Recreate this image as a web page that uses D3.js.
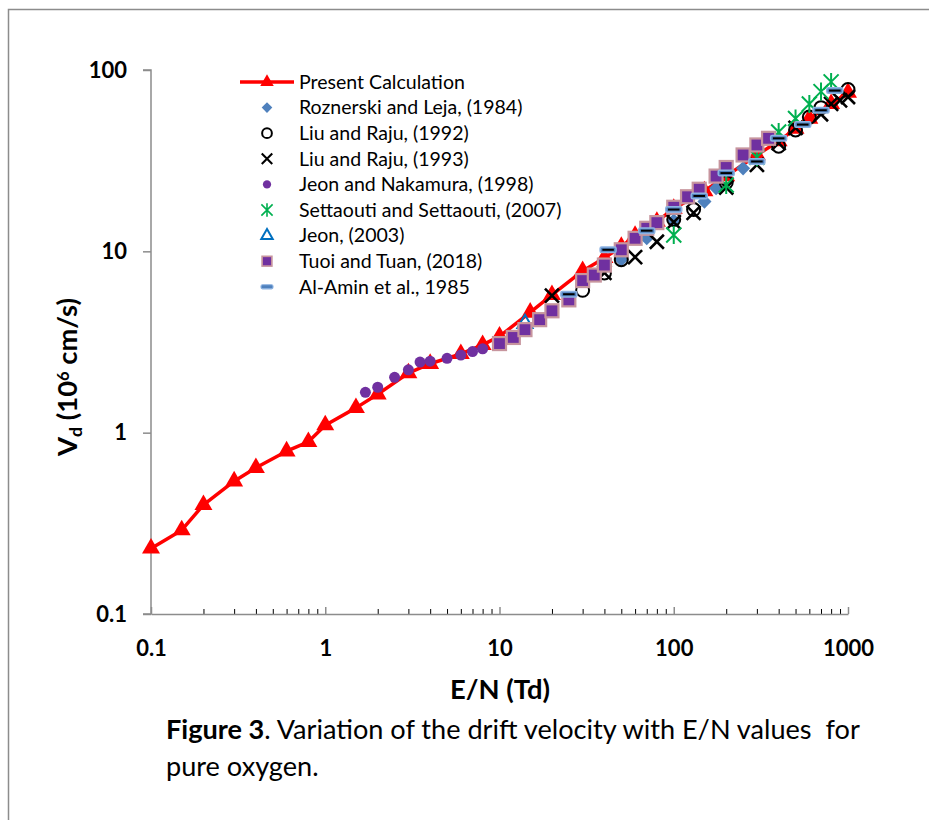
<!DOCTYPE html>
<html>
<head>
<meta charset="utf-8">
<script src="https://cdn.jsdelivr.net/npm/d3@7"></script>
<style>
  body { margin: 0; background: #fff; }
  svg { display: block; font-family: Lato, 'Open Sans', sans-serif; }
</style>
</head>
<body>
<div id="chart"></div>
<script>
// E/N (Td) and drift velocity Vd (10^6 cm/s), one pair of arrays per series
const presentEN = [0.1, 0.15, 0.2, 0.3, 0.4, 0.6, 0.8, 1, 1.5, 2, 3, 4, 6, 8, 10, 15, 20, 30, 40, 50, 60, 80, 100, 150, 200, 300, 400, 500, 600, 800, 1000];
const presentVd = [0.23, 0.29, 0.4, 0.54, 0.64, 0.79, 0.89, 1.1, 1.37, 1.63, 2.13, 2.4, 2.72, 3.05, 3.4, 4.6, 5.75, 7.8, 9.2, 10.6, 12.2, 14.6, 17.2, 21.5, 26, 34, 40.5, 47.5, 54, 65, 75];

const roznerskiEN = [50, 70, 100, 150, 175, 250];
const roznerskiVd = [9.0, 11.8, 14.8, 18.8, 22.3, 28.7];

const liu92EN = [30, 40, 50, 100, 130, 200, 400, 500, 600, 700, 1000];
const liu92Vd = [6.1, 7.6, 9.0, 15, 17, 24, 38, 46.7, 55, 62, 78];

const liu93EN = [20, 40, 60, 80, 100, 130, 200, 300, 400, 500, 700, 800, 900, 1000];
const liu93Vd = [5.7, 7.6, 9.3, 11.3, 14.5, 16.3, 22.5, 30, 39.5, 48, 57, 65, 68, 71];

const jeon98EN = [1.7, 2, 2.5, 3, 3.5, 4, 5, 6, 7, 8];
const jeon98Vd = [1.67, 1.78, 2.02, 2.22, 2.45, 2.48, 2.57, 2.68, 2.8, 2.9];

const settaoutiEN = [100, 200, 300, 400, 500, 600, 700, 800];
const settaoutiVd = [12.3, 23.2, 33, 45.5, 54, 65, 76, 86];

const jeon03EN = [14];
const jeon03Vd = [4.0];

const tuoiEN = [10, 12, 14, 17, 20, 25, 30, 35, 40, 50, 60, 70, 80, 100, 120, 140, 175, 200, 250, 300, 350];
const tuoiVd = [3.1, 3.35, 3.7, 4.2, 4.7, 5.4, 6.9, 7.4, 8.4, 10.2, 11.8, 13.4, 14.4, 17.5, 20, 22, 26, 29, 34, 38.6, 42];

const alAminEN = [25, 42, 70, 100, 140, 200, 300, 400, 550, 700, 840];
const alAminVd = [5.8, 10.2, 13, 17, 20.2, 27, 31.3, 42, 50, 60, 77];

const xTicks = [0.1, 1, 10, 100, 1000];
const yTicks = [0.1, 1, 10, 100];

const SERIES = [
  { name: 'Present Calculation', type: 'triangle', en: presentEN, vd: presentVd, line: true },
  { name: 'Roznerski and Leja, (1984)', type: 'diamond', en: roznerskiEN, vd: roznerskiVd },
  { name: 'Liu and Raju, (1992)', type: 'ring', en: liu92EN, vd: liu92Vd },
  { name: 'Liu and Raju, (1993)', type: 'cross', en: liu93EN, vd: liu93Vd },
  { name: 'Jeon and Nakamura, (1998)', type: 'dot', en: jeon98EN, vd: jeon98Vd },
  { name: 'Settaouti and Settaouti, (2007)', type: 'star', en: settaoutiEN, vd: settaoutiVd },
  { name: 'Jeon, (2003)', type: 'openTriangle', en: jeon03EN, vd: jeon03Vd },
  { name: 'Tuoi and Tuan, (2018)', type: 'square', en: tuoiEN, vd: tuoiVd },
  { name: 'Al-Amin et al., 1985', type: 'dash', en: alAminEN, vd: alAminVd },
];

const width = 929;
const height = 820;
const plot = { left: 151, right: 848, top: 70, bottom: 614 };
const AXIS_GREY = '#8c8c8c';

const svg = d3
  .select('#chart')
  .append('svg')
  .attr('width', width)
  .attr('height', height);

// page frame (only top and left edges show)
svg.append('path')
  .attr('d', `M8.5,${height} V9.5 H${width}`)
  .attr('fill', 'none')
  .attr('stroke', AXIS_GREY)
  .attr('stroke-width', 1.5);

const x = d3.scaleLog().domain([0.1, 1000]).range([plot.left, plot.right]);
const y = d3.scaleLog().domain([0.1, 100]).range([plot.bottom, plot.top]);

// x axis: minor ticks pointing up, then the labelled decades
const minorTicks = [];
for (let d = 0.1; d < 1000; d *= 10) {
  for (let m = 2; m <= 9; m++) minorTicks.push(+(d * m).toPrecision(3));
}
svg.append('g')
  .attr('transform', `translate(0,${plot.bottom})`)
  .call(d3.axisBottom(x).tickValues(minorTicks).tickSize(-5).tickFormat(''))
  .call((g) => g.select('.domain').remove());

const xAxis = svg.append('g')
  .attr('transform', `translate(0,${plot.bottom})`)
  .call(d3.axisBottom(x).tickValues(xTicks).tickSizeInner(-7).tickSizeOuter(0).tickPadding(26).tickFormat(d3.format('~g')));

const yAxis = svg.append('g')
  .attr('transform', `translate(${plot.left},0)`)
  .call(d3.axisLeft(y).tickValues(yTicks).tickSize(8).tickPadding(16).tickFormat(d3.format('~g')));

[xAxis, yAxis].forEach((g) => {
  g.selectAll('.domain, line').attr('stroke', AXIS_GREY).attr('stroke-width', 1.5);
  g.selectAll('text')
    .attr('font-family', 'Lato, sans-serif')
    .attr('font-size', 22)
    .attr('font-weight', 'bold')
    .attr('fill', '#000');
});
yAxis.select('.domain').attr('d', `M-8,${plot.bottom}H0V${plot.top}H-8`);

// markers
function marker(g, type, cx, cy, k) {
  const t = `translate(${cx},${cy})`;
  if (type === 'triangle' || type === 'openTriangle') {
    const open = type === 'openTriangle';
    g.append('path')
      .attr('transform', t)
      .attr('d', d3.symbol(d3.symbolTriangle, (open ? 100 : 140) * k * k)())
      .attr('fill', open ? 'none' : '#ff0000')
      .attr('stroke', open ? '#0070c0' : 'none')
      .attr('stroke-width', 2);
  } else if (type === 'diamond') {
    g.append('path')
      .attr('transform', `${t} rotate(45)`)
      .attr('d', d3.symbol(d3.symbolSquare, 100 * k * k)())
      .attr('fill', '#4f81bd');
  } else if (type === 'ring') {
    g.append('circle').attr('transform', t).attr('r', 6.5 * k)
      .attr('fill', 'none').attr('stroke', '#000').attr('stroke-width', 2);
  } else if (type === 'cross') {
    const h = 7 * k;
    g.append('path').attr('transform', t)
      .attr('d', `M${-h},${-h}L${h},${h}M${-h},${h}L${h},${-h}`)
      .attr('stroke', '#000').attr('stroke-width', 2.6 * Math.max(k, 0.8));
  } else if (type === 'dot') {
    g.append('circle').attr('transform', t).attr('r', 5.5 * k).attr('fill', '#7030a0');
  } else if (type === 'star') {
    const h = 7.5 * k;
    g.append('path').attr('transform', t)
      .attr('d', `M${-h},${-h}L${h},${h}M${-h},${h}L${h},${-h}M0,${-h * 1.2}V${h * 1.2}`)
      .attr('stroke', '#00b050').attr('stroke-width', 2 * Math.max(k, 0.8));
  } else if (type === 'square') {
    const s = 13 * k;
    g.append('rect').attr('transform', t)
      .attr('x', -s / 2).attr('y', -s / 2).attr('width', s).attr('height', s)
      .attr('fill', '#7030a0').attr('stroke', '#c7959e').attr('stroke-width', 2.2 * k);
  } else if (type === 'dash') {
    const w = 16 * k;
    const h = 5.5 * k;
    g.append('rect').attr('transform', t)
      .attr('x', -w / 2).attr('y', -h / 2).attr('width', w).attr('height', h).attr('rx', 1.5)
      .attr('fill', '#4f81bd').attr('stroke', '#8db3e2').attr('stroke-width', 1.5 * k);
    if (k > 0.8) {
      g.append('path').attr('transform', t)
        .attr('d', `M${-w * 0.36},0H${w * 0.36}`)
        .attr('stroke', '#000').attr('stroke-width', 2);
    }
  }
}

// series
const dataLayer = svg.append('g');
SERIES.forEach((s) => {
  const pts = s.en.map((e, i) => [e, s.vd[i]]);
  if (s.line) {
    dataLayer.append('path')
      .datum(pts)
      .attr('d', d3.line().x((d) => x(d[0])).y((d) => y(d[1])))
      .attr('fill', 'none')
      .attr('stroke', '#ff0000')
      .attr('stroke-width', 3.5)
      .attr('stroke-linejoin', 'round');
  }
  const g = dataLayer.append('g');
  pts.forEach((d) => marker(g, s.type, x(d[0]), y(d[1]), 1));
});

// legend
const LEGEND_X = 267;
const LEGEND_Y = 82;
const LEGEND_STEP = 25.6;
const legend = svg.append('g');
SERIES.forEach((s, i) => {
  const ly = LEGEND_Y + i * LEGEND_STEP;
  if (s.line) {
    legend.append('line')
      .attr('x1', 240).attr('x2', 294).attr('y1', ly).attr('y2', ly)
      .attr('stroke', '#ff0000').attr('stroke-width', 3.5);
  }
  marker(legend, s.type, LEGEND_X, ly, 0.75);
  legend.append('text')
    .attr('class', 'legend-label')
    .attr('x', 299)
    .attr('y', ly)
    .attr('dy', '0.35em')
    .attr('font-size', 17)
    .text(s.name);
});

// fit a text element's font size to a measured width
function fitWidth(sel, target) {
  const w = sel.node().getComputedTextLength();
  const fs = parseFloat(sel.attr('font-size'));
  sel.attr('font-size', (fs * target) / w);
}
fitWidth(legend.select('.legend-label'), 166);
legend.selectAll('.legend-label').attr('font-size', legend.select('.legend-label').attr('font-size'));

// axis titles
const xTitle = svg.append('text')
  .attr('x', 500)
  .attr('y', 699)
  .attr('text-anchor', 'middle')
  .attr('font-weight', 'bold')
  .attr('font-size', 24)
  .text('E/N (Td)');
fitWidth(xTitle, 100);

const yTitle = svg.append('text')
  .attr('transform', 'translate(77,377) rotate(-90)')
  .attr('text-anchor', 'middle')
  .attr('font-weight', 'bold')
  .attr('font-size', xTitle.attr('font-size'));
yTitle.append('tspan').text('V');
yTitle.append('tspan').attr('dy', 5).attr('font-size', '0.65em').text('d');
yTitle.append('tspan').attr('dy', -5).text(' (10');
yTitle.append('tspan').attr('dy', -8).attr('font-size', '0.6em').text('6');
yTitle.append('tspan').attr('dy', 8).text(' cm/s)');

// caption
const caption1 = svg.append('text')
  .attr('x', 166)
  .attr('y', 739)
  .attr('font-size', 24)
  .attr('fill', '#000');
caption1.append('tspan').attr('font-weight', 'bold').text('Figure 3');
caption1.append('tspan').text('. Variation of the drift velocity with E/N values\u00a0 for');
fitWidth(caption1, 694);

svg.append('text')
  .attr('x', 166)
  .attr('y', 776)
  .attr('font-size', caption1.attr('font-size'))
  .attr('fill', '#000')
  .text('pure oxygen.');
</script>
</body>
</html>
